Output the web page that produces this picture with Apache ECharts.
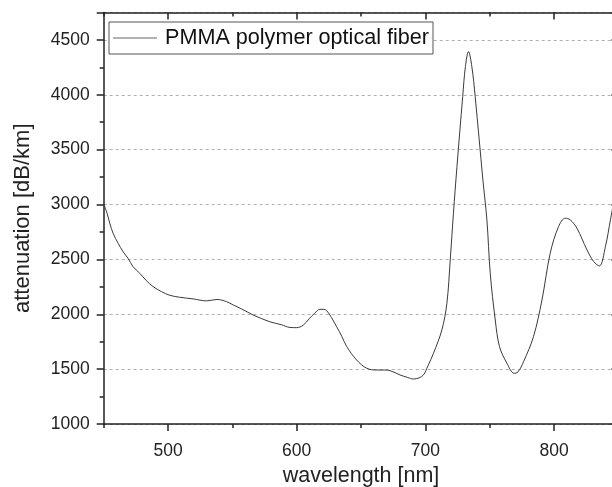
<!DOCTYPE html>
<html>
<head>
<meta charset="utf-8">
<script src="https://cdn.jsdelivr.net/npm/echarts@6/dist/echarts.min.js"></script>
<style>
html,body{margin:0;padding:0;background:#fff;overflow:hidden;width:612px;height:487px;}
#chart{width:624px;height:487px;}
</style>
</head>
<body>
<div id="chart"></div>
<script>
const wavelength = [450, 452.6, 454.7, 457.3, 461.2, 465, 468.9, 472.8, 478, 483.2, 488.4, 494.9, 501.4, 509, 519.5, 530, 538, 545.5, 550.6, 556, 563.6, 566, 579, 588, 594.7, 600, 605, 610, 614, 618, 621, 623.3, 627, 631, 635, 638.9, 646.6, 654.4, 662, 668, 672.6, 680.3, 686, 690.7, 695, 698.5, 702, 706.3, 712.8, 716.7, 719.3, 721.8, 724.5, 729, 731.1, 733.5, 736.1, 738.7, 744.7, 747.8, 750.4, 754.3, 757.6, 763.4, 769, 772, 776.3, 784, 790.6, 797, 803.5, 808.7, 812.6, 817.8, 825.6, 830.8, 835.2, 839.9, 843.8, 846];
const attenuation = [3005, 2921, 2830, 2738, 2647, 2571, 2510, 2434, 2374, 2306, 2252, 2206, 2173, 2155, 2140, 2122, 2135, 2115, 2085, 2055, 2009, 1994, 1932, 1905, 1880, 1878, 1900, 1963, 2010, 2045, 2045, 2033, 1970, 1887, 1800, 1705, 1583, 1508, 1492, 1492, 1486, 1447, 1425, 1410, 1420, 1447, 1530, 1645, 1857, 2100, 2495, 2921, 3340, 3984, 4257, 4394, 4257, 3984, 3224, 2860, 2374, 1948, 1705, 1553, 1462, 1475, 1568, 1796, 2130, 2556, 2799, 2875, 2860, 2784, 2586, 2480, 2440, 2616, 2860, 3000];
const xMajor = [500, 600, 700, 800];
const xMinor = [450, 550, 650, 750, 850];
const yLabels = [1000, 1500, 2000, 2500, 3000, 3500, 4000, 4500];
const seriesName = 'PMMA polymer optical fiber';

const FONT = 'Arial, "Liberation Sans", sans-serif';
const AX = {color: '#222', width: 1.5};
const chart = echarts.init(document.getElementById('chart'), null, {renderer: 'canvas'});
const baseX = {type: 'value', min: 450, max: 850, interval: 50, splitLine: {show: false}};
chart.setOption({
  animation: false,
  backgroundColor: '#fff',
  grid: {left: 103.7, top: 12.5, width: 514.7, height: 411.5, containLabel: false, outerBoundsMode: 'none'},
  legend: {
    left: 109, top: 22, orient: 'horizontal',
    backgroundColor: '#fff', borderColor: '#555', borderWidth: 1,
    padding: [5, 4, 5, 4], itemWidth: 44, itemHeight: 12, itemGap: 5,
    textStyle: {fontFamily: FONT, fontSize: 21.6, color: '#111', padding: [0, 0, 0, 3]},
    data: [{name: seriesName, icon: 'path://M0,0L48,0L48,1L0,1Z', itemStyle: {color: '#666'}}]
  },
  xAxis: [
    Object.assign({}, baseX, {
      position: 'bottom',
      name: 'wavelength [nm]', nameLocation: 'middle', nameGap: 40,
      nameTextStyle: {fontFamily: FONT, fontSize: 21.5, color: '#222'},
      axisLine: {show: true, lineStyle: AX},
      axisTick: {show: true, inside: false, length: 7, customValues: xMajor, lineStyle: AX},
      axisLabel: {show: true, customValues: xMajor, margin: 18, fontFamily: FONT, fontSize: 17.5, color: '#222'}
    }),
    Object.assign({}, baseX, {
      position: 'bottom',
      axisLine: {show: false},
      axisTick: {show: true, inside: false, length: 4, customValues: xMinor, lineStyle: AX},
      axisLabel: {show: false}
    }),
    Object.assign({}, baseX, {
      position: 'top',
      axisLine: {show: true, lineStyle: AX},
      axisTick: {show: true, inside: true, length: 7, customValues: xMajor, lineStyle: AX},
      axisLabel: {show: false}
    }),
    Object.assign({}, baseX, {
      position: 'top',
      axisLine: {show: false},
      axisTick: {show: true, inside: true, length: 4, customValues: xMinor, lineStyle: AX},
      axisLabel: {show: false}
    })
  ],
  yAxis: [
    {
      type: 'value', min: 1000, max: 4750, interval: 500, position: 'left',
      name: 'attenuation [dB/km]', nameLocation: 'middle', nameGap: 70,
      nameTextStyle: {fontFamily: FONT, fontSize: 22, color: '#222'},
      axisLine: {show: true, lineStyle: AX},
      axisTick: {show: true, inside: false, length: 7, lineStyle: AX},
      minorTick: {show: true, splitNumber: 2, length: 4, lineStyle: AX},
      axisLabel: {margin: 14, fontFamily: FONT, fontSize: 17.5, color: '#222',
        customValues: yLabels, formatter: v => String(v)},
      splitLine: {show: true, lineStyle: {color: '#b0b0b0', width: 1, type: [3, 3]}}
    },
    {
      type: 'value', min: 1000, max: 4750, interval: 500, position: 'right',
      axisLine: {show: true, lineStyle: AX},
      axisTick: {show: true, inside: true, length: 7, lineStyle: AX},
      axisLabel: {show: false},
      splitLine: {show: false}
    }
  ],
  series: [{
    name: seriesName, type: 'line', xAxisIndex: 0, yAxisIndex: 0,
    data: wavelength.map((w, i) => [w, attenuation[i]]),
    showSymbol: false, symbol: 'none', smooth: 0.35,
    lineStyle: {color: '#3a3a3a', width: 1},
    itemStyle: {color: '#3a3a3a'}
  }]
});
</script>
</body>
</html>
